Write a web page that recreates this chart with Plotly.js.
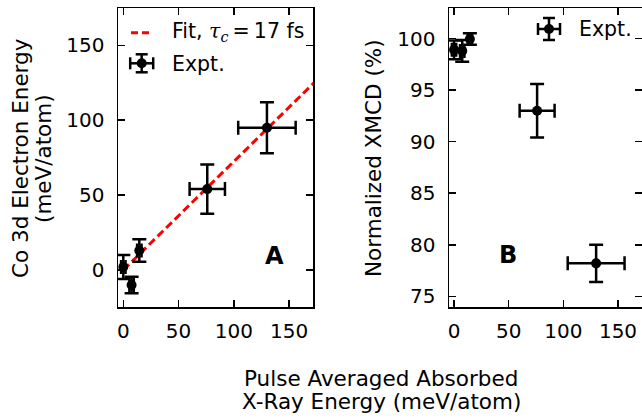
<!DOCTYPE html>
<html>
<head>
<meta charset="utf-8">
<script src="https://cdn.plot.ly/plotly-3.0.1.min.js"></script>
<style>html,body{margin:0;padding:0;background:#fff;}#chart{width:642px;height:418px;}</style>
</head>
<body>
<div id="chart"></div>
<script>
// ---- data ----
var absorbedX = [0, 7.5, 14.5, 76, 130];
var absorbedXErr = [2, 2, 2, 16, 26];
var electronEnergy = [2, -10, 13, 54, 95];
var electronEnergyErr = [8, 5.5, 7.5, 16.5, 17];
var xmcd = [98.9, 98.8, 99.95, 93, 78.2];
var xmcdErr = [0.9, 1.05, 0.55, 2.6, 1.8];
var fitX = [0, 175];
var fitY = [0, 126.7];
var xTicks = [0, 50, 100, 150];
var yTicksA = [0, 50, 100, 150];
var yTicksB = [75, 80, 85, 90, 95, 100];

var W = 642, H = 418;
function px(x){ return x / W; }
function py(y){ return 1 - y / H; }

var FONT = 'DejaVu Sans';
var fs = 20;
var tfs = 21.5;

var errStyle = {type: 'data', visible: true, color: 'black', thickness: 2.5};

var traces = [
  {
    x: fitX, y: fitY, xaxis: 'x', yaxis: 'y', mode: 'lines',
    line: {color: 'red', width: 3, dash: '8px,4px'}, hoverinfo: 'skip'
  },
  {
    x: absorbedX, y: electronEnergy, xaxis: 'x', yaxis: 'y', mode: 'markers',
    marker: {color: 'black', size: 10},
    error_y: Object.assign({array: electronEnergyErr, width: 7}, errStyle),
    error_x: Object.assign({array: absorbedXErr, width: 7}, errStyle)
  },
  {
    x: absorbedX, y: xmcd, xaxis: 'x2', yaxis: 'y2', mode: 'markers',
    marker: {color: 'black', size: 10},
    error_y: Object.assign({array: xmcdErr, width: 7}, errStyle),
    error_x: Object.assign({array: absorbedXErr, width: 7}, errStyle)
  }
];

function axisBase(){
  return {
    showline: true, linecolor: 'black', linewidth: 1.5, mirror: 'ticks',
    ticks: 'inside', ticklen: 7, tickwidth: 1.5, tickcolor: 'black',
    showgrid: false, zeroline: false,
    tickfont: {family: FONT, size: fs, color: 'black'},
    tickmode: 'array'
  };
}

var xa = Object.assign(axisBase(), {domain: [118/W, 313/W], range: [-4.8, 171.7], tickvals: xTicks, anchor: 'y', ticklabelstandoff: 5});
var ya = Object.assign(axisBase(), {domain: [111/H, 409.7/H], range: [-24.7, 174.7], tickvals: yTicksA, anchor: 'x', ticklabelstandoff: 8});
var xb = Object.assign(axisBase(), {domain: [449/W, 1], range: [-4.6, 171.96], tickvals: xTicks, anchor: 'y2', ticklabelstandoff: 5});
var yb = Object.assign(axisBase(), {domain: [111/H, 409.7/H], range: [73.97, 102.93], tickvals: yTicksB, anchor: 'x2', ticklabelstandoff: 8});

function ann(text, x, y, opts){
  return Object.assign({
    text: text, x: px(x), y: py(y), xref: 'paper', yref: 'paper',
    showarrow: false, xanchor: 'center', yanchor: 'middle',
    font: {family: FONT, size: tfs, color: 'black'}
  }, opts || {});
}
var legFont = {family: FONT, size: 20.5, color: 'black'};

var annotations = [
  ann('Co 3d Electron Energy', 20, 158, {textangle: -90}),
  ann('(meV/atom)', 43, 158, {textangle: -90}),
  ann('Normalized XMCD (%)', 373, 158, {textangle: -90}),
  ann('Pulse Averaged Absorbed', 381, 378),
  ann('X-Ray Energy (meV/atom)', 381, 401),
  ann('<b>A</b>', 274, 256, {font: {family: FONT, size: 24, color: 'black'}}),
  ann('<b>B</b>', 507.5, 255, {font: {family: FONT, size: 24, color: 'black'}}),
  ann('Fit, <span style="font-family:DejaVu Serif"><i>τ</i><sub><i>c</i></sub></span>\u2009=\u200917 fs', 170, 32, {xanchor: 'left', font: legFont}),
  ann('Expt.', 170, 64, {xanchor: 'left', font: legFont}),
  ann('Expt.', 577, 29, {xanchor: 'left', font: legFont})
];

function seg(x0, y0, x1, y1, extra){
  return Object.assign({type: 'line', xref: 'paper', yref: 'paper',
    x0: px(x0), y0: py(y0), x1: px(x1), y1: py(y1),
    line: {color: 'black', width: 2.5}}, extra || {});
}
function glyph(cx, cy, hw, hh){
  var r = 5, cap = 6;
  return [
    seg(cx - hw, cy, cx + hw, cy),
    seg(cx, cy - hh, cx, cy + hh),
    seg(cx - hw, cy - cap, cx - hw, cy + cap),
    seg(cx + hw, cy - cap, cx + hw, cy + cap),
    seg(cx - cap, cy - hh, cx + cap, cy - hh),
    seg(cx - cap, cy + hh, cx + cap, cy + hh),
    {type: 'circle', xref: 'paper', yref: 'paper',
     x0: px(cx - r), x1: px(cx + r), y0: py(cy + r), y1: py(cy - r),
     fillcolor: 'black', line: {color: 'black', width: 0}}
  ];
}

var shapes = [
  seg(131, 32.7, 153, 32.7, {line: {color: 'red', width: 3, dash: '7px,4px'}})
].concat(glyph(141.7, 63.3, 11.5, 9)).concat(glyph(549, 29, 11, 11));

var layout = {
  width: W, height: H,
  margin: {l: 0, r: 0, t: 0, b: 0},
  paper_bgcolor: 'white', plot_bgcolor: 'white',
  showlegend: false,
  xaxis: xa, yaxis: ya, xaxis2: xb, yaxis2: yb,
  annotations: annotations, shapes: shapes,
  font: {family: FONT, size: fs, color: 'black'}
};

Plotly.newPlot('chart', traces, layout, {staticPlot: true, displayModeBar: false});
</script>
</body>
</html>
